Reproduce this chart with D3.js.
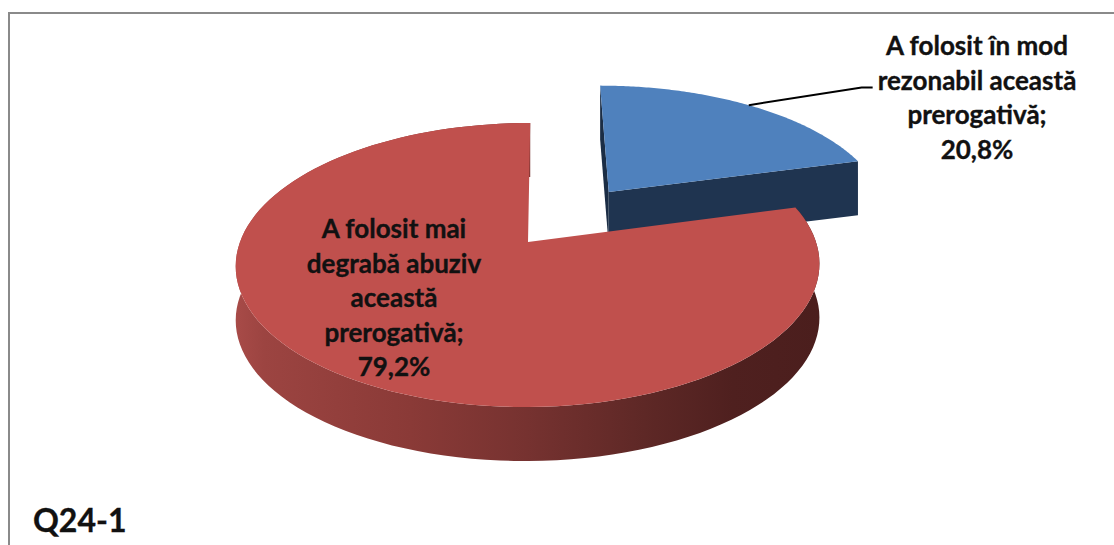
<!DOCTYPE html>
<html>
<head>
<meta charset="utf-8">
<script src="https://cdn.jsdelivr.net/npm/d3@7"></script>
<style>
  body { margin: 0; background: #fff; }
  svg { display: block; }
  text { font-family: Lato, "Open Sans", sans-serif; font-weight: bold; fill: #111; stroke: #111; stroke-width: 0.35px; }
</style>
</head>
<body>
<div id="chart"></div>
<script>
// Data
const categories = ['A folosit în mod rezonabil această prerogativă', 'A folosit mai degrabă abuziv această prerogativă'];
const values = [20.8, 79.2];
const colors = ['#4F81BD', '#C0504D'];
const chartTitle = 'Q24-1';

const width = 1114, height = 545;

const svg = d3.select('#chart')
    .append('svg')
    .attr('width', width)
    .attr('height', height);

// chart frame (runs off the right and bottom edges)
svg.append('rect')
    .attr('x', 9).attr('y', 13)
    .attr('width', 1300).attr('height', 700)
    .attr('fill', 'none')
    .attr('stroke', '#8a8a8a')
    .attr('stroke-width', 2);

// 3D projection of the pie plane (X right, Z away from viewer, radius = 1)
const cx0 = 528, cy0 = 242, vx = 544;
const S = 288, K = 138.3, persp = 0.162, sideH = 54;
const explode = 0.484;

function project(X, Z, bottom) {
    const d = 1 + persp * Z;
    return [vx + (cx0 - vx + S * X) / d, cy0 - K * Z / d + (bottom ? sideH : 0)];
}

const pie = d3.pie().sort(null).value(d => d);
const arcs = pie(values);

function sliceOffset(a) {
    if (a.index !== 0) return [0, 0];
    const mid = (a.startAngle + a.endAngle) / 2;
    return [explode * Math.sin(mid), explode * Math.cos(mid)];
}

function rimPoints(a, bottom, reverse) {
    const [ox, oz] = sliceOffset(a);
    const angles = d3.range(0, 121).map(i => a.startAngle + (a.endAngle - a.startAngle) * i / 120);
    if (reverse) angles.reverse();
    return angles.map(t => project(ox + Math.sin(t), oz + Math.cos(t), bottom));
}

function edgeFace(a, angle) {
    const [ox, oz] = sliceOffset(a);
    const ex = ox + Math.sin(angle), ez = oz + Math.cos(angle);
    return [project(ox, oz, false), project(ex, ez, false), project(ex, ez, true), project(ox, oz, true)];
}

const line = d3.line().curve(d3.curveLinearClosed);

// side gradient for the red slice
const defs = svg.append('defs');
const grad = defs.append('linearGradient')
    .attr('id', 'redSide')
    .attr('gradientUnits', 'userSpaceOnUse')
    .attr('x1', 235).attr('x2', 820).attr('y1', 0).attr('y2', 0);
[[0, '#a84b48'], [0.05, '#9c4441'], [0.3, '#8a3a37'], [0.5, '#763230'], [0.7, '#5e2826'], [0.85, '#4f201f'], [1, '#4b1e1d']]
    .forEach(s => grad.append('stop').attr('offset', s[0]).attr('stop-color', s[1]));

const g = svg.append('g');

// blue slice (exploded, behind)
const blue = arcs[0];
g.append('path').attr('d', line(edgeFace(blue, blue.startAngle))).attr('fill', '#1b2d45');
g.append('path').attr('d', line(edgeFace(blue, blue.endAngle))).attr('fill', '#1f3450');
const [bx, bz] = sliceOffset(blue);
g.append('path')
    .attr('d', line([project(bx, bz, false)].concat(rimPoints(blue, false, false))))
    .attr('fill', colors[0]);

// red slice
const red = arcs[1];
g.append('path')
    .attr('d', line(rimPoints(red, false, false).concat(rimPoints(red, true, true))))
    .attr('fill', 'url(#redSide)');
g.append('path')
    .attr('d', line([project(0, 0, false)].concat(rimPoints(red, false, false))))
    .attr('fill', colors[1]);

// labels
const fmt = v => v.toFixed(1).replace('.', ',') + '%';
const labelSpecs = [
    { x: 977, y: 55, maxW: 214 },
    { x: 394, y: 238, maxW: 185 }
];
const lineGap = 34.5;
const fontSize = 26;

function wrapWords(text, maxW, probe) {
    const words = text.split(' ');
    const lines = [];
    let cur = '';
    words.forEach(w => {
        const test = cur ? cur + ' ' + w : w;
        probe.text(test);
        if (cur && probe.node().getComputedTextLength() > maxW) {
            lines.push(cur);
            cur = w;
        } else cur = test;
    });
    if (cur) lines.push(cur);
    return lines;
}

const probe = svg.append('text').attr('font-size', fontSize).attr('visibility', 'hidden');

arcs.forEach((a, i) => {
    const spec = labelSpecs[i];
    const lines = wrapWords(categories[i] + ';', spec.maxW, probe).concat([fmt(values[i])]);
    const t = svg.append('text')
        .attr('text-anchor', 'middle')
        .attr('font-size', fontSize);
    lines.forEach((l, j) => {
        t.append('tspan').attr('x', spec.x).attr('y', spec.y + j * lineGap).text(l);
    });
    if (i === 0) {
        // leader line from the rim midpoint of the slice to the label
        const mid = (a.startAngle + a.endAngle) / 2;
        const [ox, oz] = sliceOffset(a);
        const p0 = project(ox + Math.sin(mid), oz + Math.cos(mid), false);
        const tb = t.node().getBBox();
        const yL = spec.y + lineGap - 2;
        svg.append('path')
            .attr('d', d3.line()([p0, [tb.x - 16, yL], [tb.x - 5, yL]]))
            .attr('fill', 'none')
            .attr('stroke', '#000')
            .attr('stroke-width', 2);
    }
});
probe.remove();

svg.append('text')
    .attr('x', 33).attr('y', 532)
    .attr('font-size', 32)
    .text(chartTitle);
</script>
</body>
</html>
